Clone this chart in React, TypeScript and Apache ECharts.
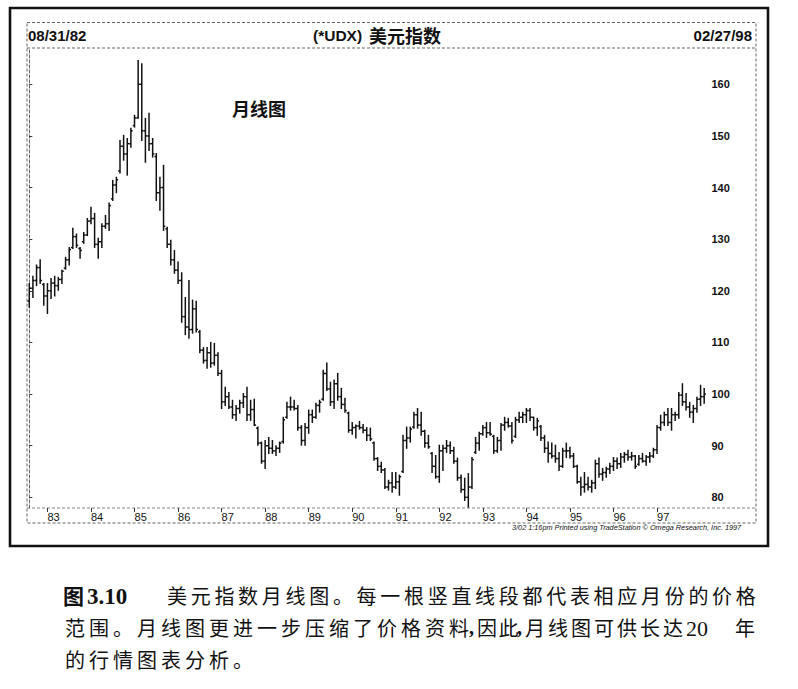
import { useEffect, useRef } from "react";
import * as echarts from "echarts";

// Monthly US Dollar Index bars, Aug 1982 (index 0) to Feb 1998 (index 186)
const HIGH = [
  121.4, 122.8, 125.0, 126.0, 121.4, 121.4, 122.4, 122.8, 122.6, 124.0,
  126.5, 128.4, 132.1, 131.0, 128.4, 131.3, 134.0, 136.2, 135.0, 130.2,
  133.0, 134.6, 137.0, 141.4, 142.0, 149.1, 150.1, 149.5, 151.5, 154.0,
  164.6, 164.0, 153.4, 154.4, 149.5, 146.6, 142.0, 144.3, 132.3, 129.8,
  127.8, 125.6, 123.5, 118.7, 122.0, 118.2, 118.0, 112.3, 109.0, 109.0,
  110.0, 109.8, 108.0, 104.6, 101.3, 100.3, 98.8, 97.8, 98.8, 100.1,
  101.3, 98.8, 99.0, 93.6, 90.7, 91.0, 91.6, 91.0, 90.0, 90.7,
  95.5, 98.4, 99.4, 98.8, 97.8, 93.9, 94.3, 96.9, 96.9, 98.2,
  98.8, 104.6, 106.0, 102.3, 102.7, 104.0, 101.1, 99.2, 96.5, 94.5,
  94.0, 94.7, 94.1, 93.5, 93.4, 90.7, 87.7, 86.8, 85.6, 83.3,
  84.8, 84.8, 84.3, 92.0, 93.6, 93.6, 96.5, 97.2, 96.5, 93.0,
  92.0, 88.7, 88.1, 90.1, 90.1, 91.0, 90.7, 89.7, 87.6, 84.3,
  83.7, 84.6, 87.7, 91.6, 92.6, 93.9, 94.5, 94.5, 92.0, 91.6,
  94.3, 95.5, 95.3, 94.5, 95.5, 96.5, 96.5, 97.2, 97.2, 95.5,
  95.3, 93.9, 92.0, 90.7, 90.5, 90.1, 88.7, 89.5, 90.5, 89.7,
  88.5, 86.2, 83.9, 84.8, 83.9, 83.3, 87.2, 87.6, 85.6, 85.8,
  86.6, 87.7, 87.6, 88.5, 88.7, 89.1, 88.7, 88.1, 88.1, 88.5,
  88.1, 88.7, 89.5, 93.9, 95.9, 96.5, 97.2, 97.2, 96.5, 100.3,
  102.0, 100.1, 98.4, 97.8, 99.4, 101.7, 101.1,
];
const LOW = [
  116.8, 118.7, 121.0, 121.4, 117.2, 115.6, 118.5, 119.0, 120.1, 121.4,
  124.2, 125.0, 128.2, 128.4, 126.3, 129.2, 130.7, 133.0, 128.4, 126.3,
  128.4, 132.1, 131.7, 137.5, 139.0, 142.8, 145.3, 142.4, 147.8, 151.7,
  153.4, 149.1, 144.9, 147.2, 145.9, 137.5, 135.6, 131.7, 128.4, 125.0,
  123.4, 121.4, 113.9, 111.5, 110.8, 111.8, 112.0, 108.0, 106.0, 105.0,
  105.2, 105.6, 103.6, 97.2, 97.8, 97.2, 95.3, 94.9, 96.3, 97.4,
  94.9, 94.9, 93.9, 90.1, 86.6, 85.6, 88.5, 88.5, 88.1, 88.7,
  90.5, 95.3, 96.9, 96.9, 93.0, 90.1, 90.1, 92.4, 94.5, 95.3,
  96.5, 98.8, 100.7, 97.8, 97.2, 98.8, 97.2, 96.5, 92.6, 92.2,
  91.5, 93.2, 92.5, 91.0, 91.0, 87.2, 85.2, 84.8, 81.7, 81.4,
  81.0, 81.7, 80.4, 84.8, 89.5, 90.7, 93.4, 93.4, 92.0, 89.7,
  89.5, 84.8, 83.7, 82.9, 85.2, 88.7, 88.5, 86.6, 83.3, 81.0,
  79.4, 78.1, 81.7, 88.5, 89.1, 92.0, 91.6, 92.0, 88.5, 88.7,
  89.1, 93.0, 93.6, 90.5, 91.6, 94.5, 94.5, 94.5, 94.9, 93.0,
  92.0, 91.0, 88.7, 86.8, 87.6, 86.8, 85.2, 85.8, 87.7, 87.6,
  85.8, 82.7, 80.4, 81.0, 81.4, 81.0, 81.7, 83.9, 83.3, 83.9,
  84.6, 85.2, 85.6, 85.8, 86.8, 87.2, 87.2, 85.6, 86.2, 86.8,
  86.2, 86.8, 87.7, 88.5, 93.0, 93.9, 93.9, 93.0, 94.9, 95.3,
  97.8, 96.9, 95.5, 94.5, 96.5, 97.8, 98.2,
];
const OPEN = [
  118.0, 120.5, 122.0, 124.5, 121.2, 119.0, 120.0, 121.5, 121.0, 122.2,
  124.4, 126.0, 128.4, 130.5, 128.2, 129.5, 130.8, 133.5, 134.0, 129.0,
  129.5, 132.5, 133.0, 137.8, 140.5, 143.2, 148.0, 146.5, 148.5, 152.0,
  153.5, 160.0, 151.0, 150.0, 148.5, 146.0, 139.0, 140.0, 132.0, 129.0,
  126.0, 124.0, 122.0, 115.0, 113.0, 112.5, 116.5, 112.0, 108.5, 106.5,
  108.0, 106.0, 107.5, 104.0, 98.5, 99.5, 97.5, 96.0, 97.2, 98.3,
  99.5, 96.0, 97.0, 93.4, 90.5, 87.0, 90.0, 89.5, 89.0, 89.5,
  90.8, 95.5, 97.5, 97.5, 97.2, 93.5, 91.0, 93.5, 96.0, 95.5,
  97.8, 99.0, 104.0, 101.0, 98.5, 102.0, 99.5, 98.0, 96.3, 93.0,
  93.5, 93.8, 93.5, 93.0, 92.0, 90.5, 87.5, 86.0, 85.3, 82.0,
  82.8, 82.0, 83.0, 85.0, 91.0, 91.5, 93.6, 96.0, 94.0, 92.8,
  90.5, 88.5, 86.0, 84.0, 89.0, 89.5, 90.0, 89.0, 87.0, 83.8,
  81.5, 80.0, 82.0, 88.7, 90.5, 92.3, 93.5, 92.5, 91.8, 89.0,
  91.0, 94.0, 94.5, 93.8, 91.8, 95.0, 95.5, 96.0, 96.8, 95.5,
  93.5, 93.7, 91.5, 89.5, 88.5, 88.0, 87.5, 86.0, 89.0, 89.0,
  88.0, 86.0, 83.0, 82.0, 82.5, 82.0, 82.8, 86.5, 84.5, 84.8,
  85.5, 86.0, 87.0, 86.5, 87.8, 88.3, 87.8, 88.0, 86.4, 87.5,
  87.0, 87.8, 88.0, 89.2, 93.5, 94.5, 96.0, 94.5, 96.0, 96.0,
  99.8, 98.5, 97.5, 96.5, 97.2, 99.0, 99.5,
];
const CLOSE = [
  120.5, 122.0, 124.5, 122.0, 119.0, 120.0, 121.5, 121.0, 122.2, 123.8,
  126.0, 128.0, 130.5, 128.8, 127.8, 130.8, 133.5, 134.0, 129.0, 129.5,
  132.5, 133.0, 136.5, 140.5, 141.5, 148.0, 146.5, 148.5, 151.0, 153.5,
  160.0, 151.0, 150.0, 148.5, 146.5, 139.0, 140.0, 132.5, 129.0, 126.0,
  124.0, 122.0, 115.0, 113.0, 112.5, 116.5, 112.5, 108.5, 106.5, 108.0,
  106.0, 107.5, 104.0, 98.5, 99.5, 97.5, 96.0, 97.2, 98.3, 99.5,
  96.0, 97.0, 94.0, 90.5, 87.0, 90.0, 89.5, 89.0, 89.5, 90.5,
  95.0, 97.5, 97.5, 97.2, 93.5, 91.0, 93.5, 96.0, 95.5, 97.8,
  98.4, 104.0, 101.0, 98.5, 102.0, 99.5, 98.0, 96.8, 93.0, 93.5,
  93.8, 93.5, 93.0, 92.0, 91.3, 87.5, 86.0, 85.3, 82.0, 82.8,
  82.0, 83.0, 84.0, 91.0, 91.5, 93.2, 96.0, 94.0, 92.8, 90.5,
  89.8, 86.0, 84.0, 89.0, 89.5, 90.0, 89.0, 87.0, 83.8, 81.5,
  80.0, 82.0, 87.3, 90.5, 92.3, 93.5, 92.5, 92.2, 89.0, 91.0,
  94.0, 94.5, 93.8, 91.0, 95.0, 95.5, 96.0, 96.8, 95.5, 93.5,
  94.8, 91.5, 89.5, 88.5, 88.0, 87.5, 86.0, 89.0, 89.0, 88.0,
  86.0, 83.0, 82.0, 82.5, 82.0, 82.8, 86.5, 84.5, 84.8, 85.5,
  86.0, 87.0, 86.5, 87.8, 88.3, 87.8, 88.0, 86.0, 87.5, 87.0,
  87.8, 88.0, 89.2, 93.5, 94.5, 96.0, 94.5, 96.0, 96.0, 99.8,
  98.5, 97.5, 96.5, 97.2, 99.0, 99.5, 100.0,
];

// Axis labels
const YEAR_LABELS = ["83", "84", "85", "86", "87", "88", "89", "90", "91", "92", "93", "94", "95", "96", "97"];
const FIRST_JAN_INDEX = 5; // Jan 1983 counted from Aug 1982
const Y_TICKS = [80, 90, 100, 110, 120, 130, 140, 150, 160];

// Texts
const START_DATE = "08/31/82";
const END_DATE = "02/27/98";
const TITLE_CODE = "(*UDX)";
const TITLE_NAME = "美元指数";
const INNER_LABEL = "月线图";
const FOOTER = "3/02 1:16pm Printed using TradeStation © Omega Research, Inc. 1997";
const CAPTION_FIG = ["图", "3.10"];
const CAPTION_L1 = "美元指数月线图。每一根竖直线段都代表相应月份的价格";
const CAPTION_L2 = ["范围。月线图更进一步压缩了价格资料", ",", "因此", ",", "月线图可供长达", "20", "年"];
const CAPTION_L3 = "的行情图表分析。";

const SANS = "Liberation Sans, Arial, Noto Sans CJK SC, sans-serif";
const CJK = "Noto Sans CJK SC, sans-serif";
const SERIF = "Liberation Serif, DejaVu Serif, serif";

function spread(str: string, x0: number, pitch: number, y: number, size: number, weight = "normal") {
  return Array.from(str).map((ch, k) => ({
    type: "text",
    x: x0 + k * pitch,
    y,
    silent: true,
    style: { text: ch, fill: "#111", fontSize: size, fontFamily: CJK, fontWeight: weight, align: "left", verticalAlign: "middle" },
  }));
}

function txt(text: string, x: number, y: number, size: number, family: string, weight = "normal", align = "left", extra: any = {}) {
  return {
    type: "text",
    x,
    y,
    silent: true,
    style: { text, fill: "#111", fontSize: size, fontFamily: family, fontWeight: weight, align, verticalAlign: "middle", ...extra },
  };
}

function renderOHLC(_params: any, api: any) {
  const x = api.value(0);
  const o = api.coord([x, api.value(1)]);
  const h = api.coord([x, api.value(2)]);
  const l = api.coord([x, api.value(3)]);
  const c = api.coord([x, api.value(4)]);
  const style = { stroke: "#111", lineWidth: 1.5 };
  return {
    type: "group",
    children: [
      { type: "line", shape: { x1: h[0], y1: h[1] - 0.5, x2: l[0], y2: l[1] + 0.5 }, style },
      { type: "line", shape: { x1: o[0] - 1.8, y1: o[1], x2: o[0], y2: o[1] }, style },
      { type: "line", shape: { x1: c[0], y1: c[1], x2: c[0] + 1.8, y2: c[1] }, style },
    ],
  };
}

export default function App() {
  const ref = useRef<HTMLDivElement>(null);

  useEffect(() => {
    if (!ref.current) return;
    const chart = echarts.init(ref.current, null, { renderer: "svg" });
    const bars = HIGH.map((h, i) => [i, OPEN[i], h, LOW[i], CLOSE[i]]);
    const janIndex = YEAR_LABELS.map((_, k) => FIRST_JAN_INDEX + 12 * k);
    const dash = { stroke: "#3a3a3a", lineWidth: 0.8, lineDash: [3, 2], fill: "none" };

    const graphics: any[] = [
      { type: "rect", silent: true, shape: { x: 10, y: 8, width: 758, height: 538 }, style: { fill: "none", stroke: "#111", lineWidth: 2.6 } },
      { type: "rect", silent: true, shape: { x: 27, y: 22.5, width: 729, height: 500.5 }, style: dash },
      { type: "line", silent: true, shape: { x1: 27, y1: 48, x2: 756, y2: 48 }, style: dash },
      { type: "line", silent: true, shape: { x1: 27, y1: 508, x2: 756, y2: 508 }, style: { ...dash, stroke: "#666" } },
      txt(START_DATE, 28, 35, 15, SANS, "bold"),
      txt(TITLE_CODE, 313, 35, 15.5, SANS, "bold"),
      txt(TITLE_NAME, 369, 34.5, 18, CJK, "bold"),
      txt(END_DATE, 752, 35, 15, SANS, "bold", "right"),
      txt(INNER_LABEL, 232, 108, 18, CJK, "bold"),
      txt(FOOTER, 512, 527, 7.3, SANS, "normal", "left", { fontStyle: "italic" }),
      // caption
      txt(CAPTION_FIG[0], 63, 595, 21, CJK, "bold"),
      txt(CAPTION_FIG[1], 87, 596, 23, SERIF, "bold"),
      ...spread(CAPTION_L1, 167, 23.7, 595, 20),
      ...spread(CAPTION_L2[0], 65, 24, 627, 20),
      txt(CAPTION_L2[1], 469, 627, 20, SERIF, "bold"),
      ...spread(CAPTION_L2[2], 477, 21.5, 627, 20),
      txt(CAPTION_L2[3], 517, 627, 20, SERIF, "bold"),
      ...spread(CAPTION_L2[4], 525, 23, 627, 20),
      txt(CAPTION_L2[5], 686, 628, 22, SERIF, "normal"),
      ...spread(CAPTION_L2[6], 735, 24, 627, 20),
      ...spread(CAPTION_L3, 65, 24, 659, 20),
    ];

    chart.setOption({
      animation: false,
      backgroundColor: "#ffffff",
      grid: { left: 27, right: 88, top: 48, bottom: 181 },
      xAxis: {
        type: "value",
        min: -0.63,
        max: 187.6,
        axisLine: { show: false },
        axisTick: { show: true, length: 4, customValues: janIndex, lineStyle: { color: "#222", width: 0.9 } },
        axisLabel: {
          show: true,
          customValues: janIndex,
          formatter: (v: number) => YEAR_LABELS[Math.round((v - FIRST_JAN_INDEX) / 12)] ?? "",
          align: "left",
          margin: 3,
          fontSize: 11,
          color: "#111",
          fontFamily: SANS,
        },
        splitLine: { show: false },
      },
      yAxis: {
        type: "value",
        position: "right",
        min: 77.93,
        max: 167.03,
        axisLine: { show: true, lineStyle: { color: "#3a3a3a", width: 0.8, type: [3, 2] } },
        axisTick: { show: true, length: 3, customValues: Y_TICKS, lineStyle: { color: "#222", width: 0.9 } },
        axisLabel: { show: true, customValues: Y_TICKS, margin: 1.5, fontSize: 11, fontWeight: "bold", color: "#111", fontFamily: SANS },
        splitLine: { show: false },
      },
      series: [
        {
          type: "custom",
          renderItem: renderOHLC,
          data: bars,
          encode: { x: 0, y: [1, 2, 3, 4] },
          silent: true,
        },
      ],
      graphic: graphics,
    });
    return () => chart.dispose();
  }, []);

  return (
    <div
      ref={ref}
      style={{ position: "fixed", left: 0, top: 0, width: 798, height: 689, background: "#fff" }}
    />
  );
}
